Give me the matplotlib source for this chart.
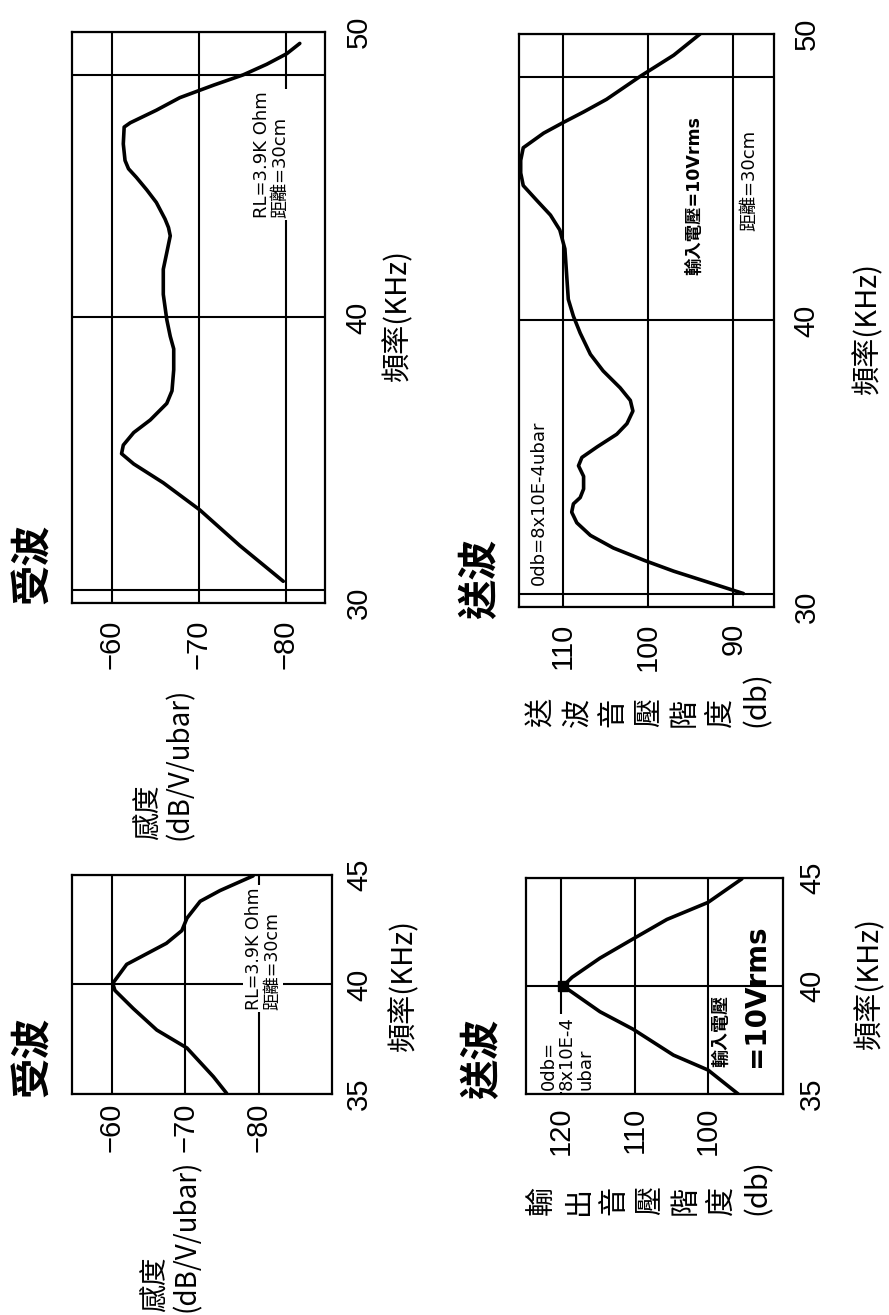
import matplotlib
matplotlib.use('Agg')
import matplotlib.pyplot as plt

plt.rcParams['font.family'] = ['Noto Sans CJK TC', 'DejaVu Sans']

W, H = 889, 1315

# 受波, 30-50 kHz (sensitivity, dB/V/ubar)
recv_wide_khz = [30.76, 32.01, 33.26, 34.21, 34.87, 35.23, 35.53, 35.97, 36.41, 36.99,
                 37.43, 38.17, 38.9, 39.34, 39.93, 40.81, 41.69, 42.27, 42.86, 43.15,
                 43.45, 44.03, 44.47, 44.91, 45.21, 45.5, 46.08, 46.67, 46.82, 47.26,
                 47.7, 48.14, 48.5, 48.87, 49.24, 49.6]
recv_wide_db = [-79.7, -74.7, -70.1, -65.9, -62.5, -61.1, -61.3, -62.5, -64.4, -66.3,
                -66.9, -67.1, -67.1, -66.7, -66.3, -65.9, -65.9, -66.3, -66.7, -66.5,
                -66.1, -65.1, -64.0, -62.8, -61.9, -61.5, -61.3, -61.4, -62.1, -65.1,
                -67.8, -71.7, -75.1, -77.8, -80.1, -81.6]

# 送波, 30-50 kHz (sound pressure level, db)
send_wide_khz = [30.47, 30.88, 31.25, 31.62, 32.06, 32.5, 32.94, 33.31, 33.6, 33.82,
                 34.12, 34.56, 34.93, 35.22, 35.59, 36.03, 36.4, 36.84, 37.21, 37.65,
                 38.24, 38.82, 39.56, 40.15, 40.74, 41.62, 42.5, 43.16, 43.68, 44.19,
                 44.71, 45.15, 45.59, 46.03, 46.54, 46.91, 47.28, 47.72, 48.53, 49.26, 50.0]
send_wide_db = [88.8, 93.1, 97.0, 100.4, 104.1, 106.8, 108.4, 109.0, 108.8, 108.0,
                107.6, 107.6, 108.2, 107.8, 106.0, 103.7, 102.5, 101.8, 102.1, 103.3,
                105.3, 106.8, 108.0, 108.8, 109.4, 109.6, 109.8, 110.4, 111.5, 113.1,
                114.7, 115.0, 115.0, 114.7, 112.3, 110.0, 107.6, 104.9, 100.9, 97.0, 93.9]

# 受波, 35-45 kHz
recv_narrow_khz = [35.03, 35.79, 37.1, 37.92, 38.9, 39.73, 40.05, 40.92, 41.4, 41.88,
                   42.46, 43.03, 43.8, 44.29, 44.96]
recv_narrow_db = [-75.6, -73.8, -70.2, -66.1, -62.9, -60.4, -60.1, -62.0, -64.7, -67.4,
                  -69.5, -70.2, -72.0, -74.7, -79.2]

# 送波, 35-45 kHz
send_narrow_khz = [35.0, 36.11, 36.8, 38.0, 38.81, 40.0, 40.4, 41.29, 42.18, 43.08, 43.87, 44.96]
send_narrow_db = [95.9, 100.0, 104.7, 110.2, 114.7, 119.7, 118.5, 114.7, 110.2, 105.6, 100.0, 95.4]
send_peak = (119.7, 40.0)

# marker lines near the ends of the 30-50 kHz sweep
sweep_marks = [30.45, 48.5]

NUM = ['Liberation Sans', 'DejaVu Sans']
CJK = ['Noto Sans CJK TC', 'DejaVu Sans']
LAT = ['DejaVu Sans', 'Noto Sans CJK TC']

fig = plt.figure(figsize=(W / 100, H / 100), dpi=100)


def box(x0, y0, x1, y1):
    return [x0 / W, 1 - y1 / H, (x1 - x0) / W, (y1 - y0) / H]


def px(x, y):
    return x / W, 1 - y / H


def panel(rect, khz, lvl, xlim, xticks, xlabels, ylim, yticks, xpad, ypad):
    ax = fig.add_axes(rect)
    ax.plot(lvl, khz, color='black', lw=2.6, solid_joinstyle='round', solid_capstyle='round')
    ax.set_xlim(*xlim)
    ax.set_ylim(*ylim)
    ax.set_xticks(xticks)
    ax.set_xticklabels(xlabels, rotation=90, family=NUM, fontsize=21)
    ax.yaxis.tick_right()
    ax.set_yticks(yticks)
    ax.set_yticklabels([str(v) for v in yticks], rotation=90, family=NUM, fontsize=21)
    for t in ax.get_yticklabels():
        t.set_va('center')
    ax.tick_params(length=0)
    ax.tick_params(axis='x', pad=xpad)
    ax.tick_params(axis='y', pad=ypad)
    ax.grid(True, color='black', lw=1.5)
    for s in ax.spines.values():
        s.set_linewidth(1.6)
    return ax


def rtext(x, y, s, size, fam=CJK, weight='normal', ha='left', va='bottom', bg=False, ls=1.15):
    kw = dict(rotation=90, ha=ha, va=va, fontsize=size, family=fam, weight=weight,
              multialignment='left', linespacing=ls, zorder=5)
    if bg:
        kw['bbox'] = dict(facecolor='white', edgecolor='none', pad=1.5)
    fig.text(*px(x, y), s, **kw)


# top-left: 受波 30-50
axA = panel(box(72, 32, 325, 603), recv_wide_khz, recv_wide_db, (-55.4, -84.5),
            [-60, -70, -80], ['\u221260', '\u221270', '\u221280'], (30, 50), [30, 40, 50], 12, 14)
for m in sweep_marks:
    axA.axhline(m, color='black', lw=1.5)

# top-right: 送波 30-50
axB = panel(box(519, 34, 774, 607), send_wide_khz, send_wide_db, (115.2, 85.2),
            [110, 100, 90], ['110', '100', '90'], (30, 50), [30, 40, 50], 11.5, 13.5)
for m in sweep_marks:
    axB.axhline(m, color='black', lw=1.5)

# bottom-left: 受波 35-45
axC = panel(box(72, 875, 332, 1094), recv_narrow_khz, recv_narrow_db, (-54.56, -89.93),
            [-60, -70, -80], ['\u221260', '\u221270', '\u221280'], (35, 45), [35, 40, 45], 6, 9.5)

# bottom-right: 送波 35-45
axD = panel(box(526, 878, 783, 1094), send_narrow_khz, send_narrow_db, (124.76, 89.8),
            [120, 110, 100], ['120', '110', '100'], (35, 45), [35, 40, 45], 9, 11)
axD.plot([send_peak[0]], [send_peak[1]], marker='s', color='black', ms=7)

# titles
rtext(13, 604, '受波', 29, weight='bold')
rtext(460, 619, '送波', 29, weight='bold')
rtext(13, 1097, '受波', 29, weight='bold')
rtext(462, 1099, '送波', 29, weight='bold')

# frequency axis labels
for x, y in [(398, 315), (868, 328), (404, 985), (870, 983)]:
    rtext(x, y, '頻率(KHz)', 21, ha='center', va='center')

# level axis labels
rtext(133, 840, '感度\n(dB/V/ubar)', 20, ls=1.1)
rtext(140, 1312, '感度\n(dB/V/ubar)', 20, ls=1.1)
rtext(527, 727, '送\n波\n音\n壓\n階\n度\n(db)', 21, ls=1.25)
rtext(528, 1215, '輸\n出\n音\n壓\n階\n度\n(db)', 21, ls=1.25)

# notes inside the panels
rtext(253, 218, 'RL=3.9K Ohm\n距離=30cm', 13, fam=LAT, bg=True, ls=1.0)
rtext(245, 1010, 'RL=3.9K Ohm\n距離=30cm', 12.5, fam=LAT, bg=True, ls=1.0)
rtext(530, 585, '0db=8x10E-4ubar', 13, fam=LAT)
rtext(685, 275, '輸入電壓=10Vrms', 12.5, fam=LAT, weight='bold')
rtext(740, 231, '距離=30cm', 13, fam=LAT)
rtext(540, 1090, '0db=\n8x10E-4\nubar', 13, fam=LAT, bg=True, ls=1.0)
rtext(712, 1067, '輸入電壓', 13, fam=LAT, weight='bold')
rtext(742, 1067, '=10Vrms', 20, fam=LAT, weight='bold')

fig.savefig('out.png', dpi=100, facecolor='white')
